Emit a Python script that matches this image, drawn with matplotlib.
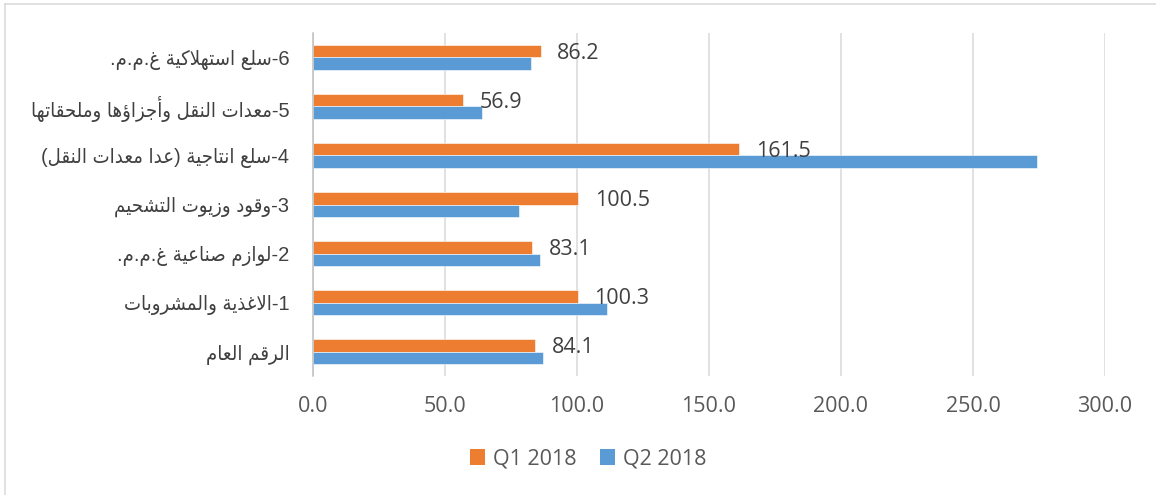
import re
import matplotlib
matplotlib.use("Agg")
import matplotlib.pyplot as plt
from matplotlib.patches import Patch
from matplotlib.lines import Line2D
import numpy as np

# Data (top to bottom as shown)
categories = [
    "6-سلع استهلاكية غ.م.م.",
    "5-معدات النقل وأجزاؤها وملحقاتها",
    "4-سلع انتاجية (عدا معدات النقل)",
    "3-وقود وزيوت التشحيم",
    "2-لوازم صناعية غ.م.م.",
    "1-الاغذية والمشروبات",
    "الرقم العام",
]
q1_2018 = [86.2, 56.9, 161.5, 100.5, 83.1, 100.3, 84.1]
q2_2018 = [82.6, 64.0, 274.2, 78.1, 85.8, 111.3, 87.0]
series_names = ["Q1 2018", "Q2 2018"]
x_ticks = [0, 50, 100, 150, 200, 250, 300]

# Minimal Arabic shaping: (isolated, final, initial, medial) presentation forms
FORMS = {
    "ا": (0xFE8D, 0xFE8E, None, None),
    "أ": (0xFE83, 0xFE84, None, None),
    "ؤ": (0xFE85, 0xFE86, None, None),
    "ة": (0xFE93, 0xFE94, None, None),
    "د": (0xFEA9, 0xFEAA, None, None),
    "ذ": (0xFEAB, 0xFEAC, None, None),
    "ر": (0xFEAD, 0xFEAE, None, None),
    "ز": (0xFEAF, 0xFEB0, None, None),
    "و": (0xFEED, 0xFEEE, None, None),
    "ب": (0xFE8F, 0xFE90, 0xFE91, 0xFE92),
    "ت": (0xFE95, 0xFE96, 0xFE97, 0xFE98),
    "ج": (0xFE9D, 0xFE9E, 0xFE9F, 0xFEA0),
    "ح": (0xFEA1, 0xFEA2, 0xFEA3, 0xFEA4),
    "س": (0xFEB1, 0xFEB2, 0xFEB3, 0xFEB4),
    "ش": (0xFEB5, 0xFEB6, 0xFEB7, 0xFEB8),
    "ص": (0xFEB9, 0xFEBA, 0xFEBB, 0xFEBC),
    "ع": (0xFEC9, 0xFECA, 0xFECB, 0xFECC),
    "غ": (0xFECD, 0xFECE, 0xFECF, 0xFED0),
    "ق": (0xFED5, 0xFED6, 0xFED7, 0xFED8),
    "ك": (0xFED9, 0xFEDA, 0xFEDB, 0xFEDC),
    "ل": (0xFEDD, 0xFEDE, 0xFEDF, 0xFEE0),
    "م": (0xFEE1, 0xFEE2, 0xFEE3, 0xFEE4),
    "ن": (0xFEE5, 0xFEE6, 0xFEE7, 0xFEE8),
    "ه": (0xFEE9, 0xFEEA, 0xFEEB, 0xFEEC),
    "ي": (0xFEF1, 0xFEF2, 0xFEF3, 0xFEF4),
}
MIRROR = {"(": ")", ")": "("}


def dual(c):
    return c in FORMS and FORMS[c][2] is not None


def shape_rtl(text):
    out = []
    i = 0
    while i < len(text):
        c = text[i]
        if c not in FORMS:
            out.append(c)
            i += 1
            continue
        prev = text[i - 1] if i > 0 else ""
        nxt = text[i + 1] if i + 1 < len(text) else ""
        joins_prev = dual(prev)
        if c == "ل" and nxt == "ا":
            out.append(chr(0xFEFC if joins_prev else 0xFEFB))
            i += 2
            continue
        joins_next = dual(c) and nxt in FORMS
        iso, fin, ini, med = FORMS[c]
        if joins_prev and joins_next:
            out.append(chr(med))
        elif joins_prev:
            out.append(chr(fin))
        elif joins_next:
            out.append(chr(ini))
        else:
            out.append(chr(iso))
        i += 1
    runs = re.findall(r"[0-9]+|.", "".join(out))
    return "".join(MIRROR.get(r, r) for r in reversed(runs))


orange = "#ED7D31"
blue = "#5B9BD5"
num_font = "Open Sans"

fig = plt.figure(figsize=(11.56, 4.95), dpi=100)
ax = fig.add_axes([313 / 1156, 1 - 376.3 / 495, 792 / 1156, 343.5 / 495])

y = np.arange(len(categories))
h = 0.255
ax.barh(y - h / 2, q1_2018, height=h, color=orange, edgecolor="white", linewidth=0.4, zorder=3)
ax.barh(y + h / 2, q2_2018, height=h, color=blue, edgecolor="white", linewidth=0.4, zorder=3)

for yi, v in zip(y, q1_2018):
    ax.annotate(f"{v:.1f}", xy=(v, yi - h / 2), xytext=(12, -1.5), textcoords="offset points",
                ha="left", va="center", fontsize=15.5, color="#404040", family=num_font, zorder=4)

ax.set_xlim(0, 300)
ax.set_ylim(len(categories) - 0.5, -0.5)
ax.set_xticks(x_ticks)
ax.set_xticklabels([f"{t:.1f}" for t in x_ticks], family=num_font, fontsize=15.5, color="#595959")
ax.set_yticks(y)
ax.set_yticklabels([shape_rtl(c) for c in categories], family=["Liberation Sans", "DejaVu Sans"],
                   fontsize=14.5, fontstretch="condensed", color="#404040")
ax.tick_params(axis="x", length=0, pad=14)
ax.tick_params(axis="y", length=0, pad=17)

ax.grid(True, axis="x", color="#D9D9D9", linewidth=1.1, zorder=0)
ax.set_axisbelow(True)
for s in ["top", "right", "bottom"]:
    ax.spines[s].set_visible(False)
ax.spines["left"].set_color("#BFBFBF")
ax.spines["left"].set_linewidth(1.1)
ax.spines["left"].set_zorder(5)

handles = [Patch(facecolor=orange), Patch(facecolor=blue)]
fig.legend(handles, series_names, loc="center", bbox_to_anchor=(588 / 1156, 1 - 459 / 495), ncol=2,
           frameon=False, prop={"family": num_font, "size": 15.5}, labelcolor="#595959",
           handlelength=0.7, handleheight=0.7, handletextpad=0.35, columnspacing=1.1)

# Chart area outline (top and left edges visible)
fig.add_artist(Line2D([5 / 1156, 5 / 1156], [0, 1 - 4 / 495], transform=fig.transFigure, color="#D9D9D9", lw=1.1))
fig.add_artist(Line2D([5 / 1156, 1], [1 - 4 / 495, 1 - 4 / 495], transform=fig.transFigure, color="#D9D9D9", lw=1.1))

fig.savefig("out.png", dpi=100)
